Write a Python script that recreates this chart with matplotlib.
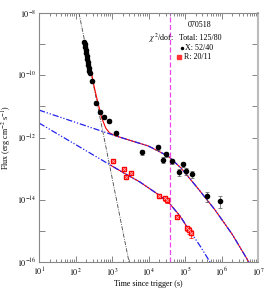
import matplotlib
matplotlib.use("Agg")
import matplotlib.pyplot as plt
import numpy as np

plt.rcParams['font.family'] = ['Liberation Serif', 'DejaVu Serif']
plt.rcParams['mathtext.fontset'] = 'stix'

# ---- data ----
x_t = [171, 182, 182, 194, 194, 207, 207, 220, 220, 234, 234, 250,
       283, 365, 469, 604, 828, 1288, 6640, 18200, 30100, 24900, 44000,
       88000, 68500, 106000, 156000, 400000, 910000]
x_f = [1.17e-9, 1.01e-9, 8.1e-10, 6.5e-10, 5.2e-10, 4.15e-10, 3.33e-10,
       2.67e-10, 2.13e-10, 1.71e-10, 1.37e-10, 1.18e-10,
       6.5e-11, 1.29e-11, 6.6e-12, 4.6e-12, 3.4e-12, 1.4e-12, 3.4e-13,
       4.95e-13, 2.95e-13, 1.9e-13, 1.76e-13, 1.41e-13, 7.8e-14, 8.4e-14,
       6.7e-14, 1.32e-14, 9.1e-15]
x_rel_err = [0.08] * 12 + [0.12, 0.15, 0.15, 0.15, 0.15, 0.15, 0.2, 0.2,
                           0.2, 0.2, 0.2, 0.2, 0.25, 0.25, 0.25, 0.35, 0.4]

r_t = [1064, 2133, 3318, 2420, 19400, 28300, 32000, 60400, 113000, 129000, 146000]
r_f = [1.76e-13, 9.7e-14, 7.2e-14, 5.4e-14, 1.32e-14, 1.14e-14, 9.8e-15,
       2.8e-15, 1.24e-15, 1.07e-15, 8.5e-16]
r_rel_err = [0.15, 0.15, 0.15, 0.15, 0.15, 0.2, 0.2, 0.15, 0.2, 0.25, 0.3]

# model curves
steep_t = [124.7, 2924]
steep_f = [1e-8, 1e-16]

xcomp_t = [10, 1288, 10000, 35000, 78000, 220000, 640000, 1.96e6, 5.6e6]
xcomp_f = [7.6e-12, 1.12e-12, 5.3e-13, 2.5e-13, 1.04e-13, 2.4e-14, 5.0e-15, 7.8e-16, 1.0e-16]

xtot_t = [182, 250, 320, 410, 525, 675, 860, 1288, 10000, 35000, 78000, 220000, 640000, 1.96e6, 5.6e6]
xtot_f = [1.07e-9, 2.0e-10, 4.6e-11, 1.32e-11, 4.2e-12, 2.0e-12, 1.4e-12, 1.12e-12,
          5.3e-13, 2.5e-13, 1.04e-13, 2.4e-14, 5.0e-15, 7.8e-16, 1.0e-16]

rcomp_t = [10, 2133, 5850, 19400, 38800, 73000, 137000, 258000, 484000]
rcomp_f = [2.92e-12, 7.2e-14, 3.7e-14, 1.42e-14, 7.3e-15, 3.0e-15, 9.9e-16, 3.3e-16, 1.0e-16]

rtot_t = [900, 2133, 5850, 19400, 38800, 73000, 160000]
rtot_f = [1.3e-13, 7.2e-14, 3.7e-14, 1.42e-14, 7.3e-15, 3.0e-15, 7.0e-16]

t_break = 3.88e4

# ---- figure ----
fig = plt.figure(figsize=(2.70, 2.91), dpi=100)
ax = fig.add_axes([39/270, 1-262/291, 219/270, 249/291])
ax.set_xscale('log')
ax.set_yscale('log')
ax.set_xlim(10, 1e7)
ax.set_ylim(1e-16, 1e-8)

blue_dash = (0, (5, 1.5, 1, 1.5, 1, 1.5))
ax.plot(steep_t, steep_f, color='#444444', lw=0.6, dashes=(5, 1.5, 1, 1.5))
ax.plot(xtot_t, xtot_f, color='red', lw=0.8)
ax.plot(rtot_t, rtot_f, color='red', lw=0.8)
ax.plot(xcomp_t, xcomp_f, color='#2222ee', lw=0.9, linestyle=blue_dash)
ax.plot(rcomp_t, rcomp_f, color='#2222ee', lw=0.9, linestyle=blue_dash)
ax.axvline(t_break, color='#ee44ee', lw=0.9, dashes=(4, 2))

xe = np.array(x_f) * np.array(x_rel_err)
ax.errorbar(x_t, x_f, yerr=xe, fmt='o', color='black', ms=3.0, elinewidth=0.5,
            ecolor='#555555', capsize=1.2, capthick=0.5, zorder=5)
re = np.array(r_f) * np.array(r_rel_err)
ax.errorbar(r_t, r_f, yerr=re, fmt='s', color='red', mfc='#ff3333', ms=2.6,
            elinewidth=0.5, capsize=1.2, capthick=0.5, zorder=5)
ax.plot(r_t, r_f, linestyle='none', marker='x', color='#ffaaaa', ms=2.0, mew=0.5, zorder=6)

# ticks
ax.set_xticks([10**k for k in range(1, 8)])
ax.set_xticklabels([r'$10^{%d}$' % k for k in range(1, 8)])
ax.set_yticks([10.0**k for k in range(-16, -7)])
ax.set_yticklabels([r'$10^{%d}$' % k if k % 2 == 0 else '' for k in range(-16, -7)])
ax.yaxis.set_minor_locator(matplotlib.ticker.NullLocator())
ax.xaxis.set_minor_locator(matplotlib.ticker.LogLocator(base=10, subs=np.arange(2, 10), numticks=20))
ax.tick_params(which='both', direction='in', top=True, right=True, labelsize=5.8, colors='#555555',
               labelcolor='black')
ax.tick_params(which='major', length=4, width=0.5)
ax.tick_params(which='minor', length=2, width=0.5)
ax.tick_params(axis='x', pad=3)
ax.tick_params(axis='y', pad=2)
for s in ax.spines.values():
    s.set_color('#888888')
    s.set_linewidth(0.8)
ax.spines['right'].set_color('#bbbbbb')
ax.spines['right'].set_linewidth(1.5)

ax.set_xlabel('Time since trigger (s)', fontsize=5.8, labelpad=1)
ax.set_ylabel(r'Flux (erg cm$^{-2}$ s$^{-1}$)', fontsize=5.8)
ax.yaxis.set_label_coords(-0.115, 0.5)

# legend text
fs = 5.8
ax.text(0.731, 0.952, '070518', transform=ax.transAxes, fontsize=fs, ha='center', va='center')
ax.text(0.616, 0.900, r'$\chi^2$/dof:', transform=ax.transAxes, fontsize=fs, ha='right', va='center')
ax.text(0.639, 0.900, 'Total: 125/80', transform=ax.transAxes, fontsize=fs, ha='left', va='center')
ax.plot([0.653], [0.860], 'o', color='black', ms=1.5, transform=ax.transAxes)
ax.text(0.666, 0.860, 'X: 52/40', transform=ax.transAxes, fontsize=fs, ha='left', va='center')
ax.plot([0.637], [0.823], 's', color='#ff3333', ms=2.5, transform=ax.transAxes)
ax.text(0.662, 0.823, 'R: 20/11', transform=ax.transAxes, fontsize=fs, ha='left', va='center')

fig.savefig('out.png', dpi=100)
